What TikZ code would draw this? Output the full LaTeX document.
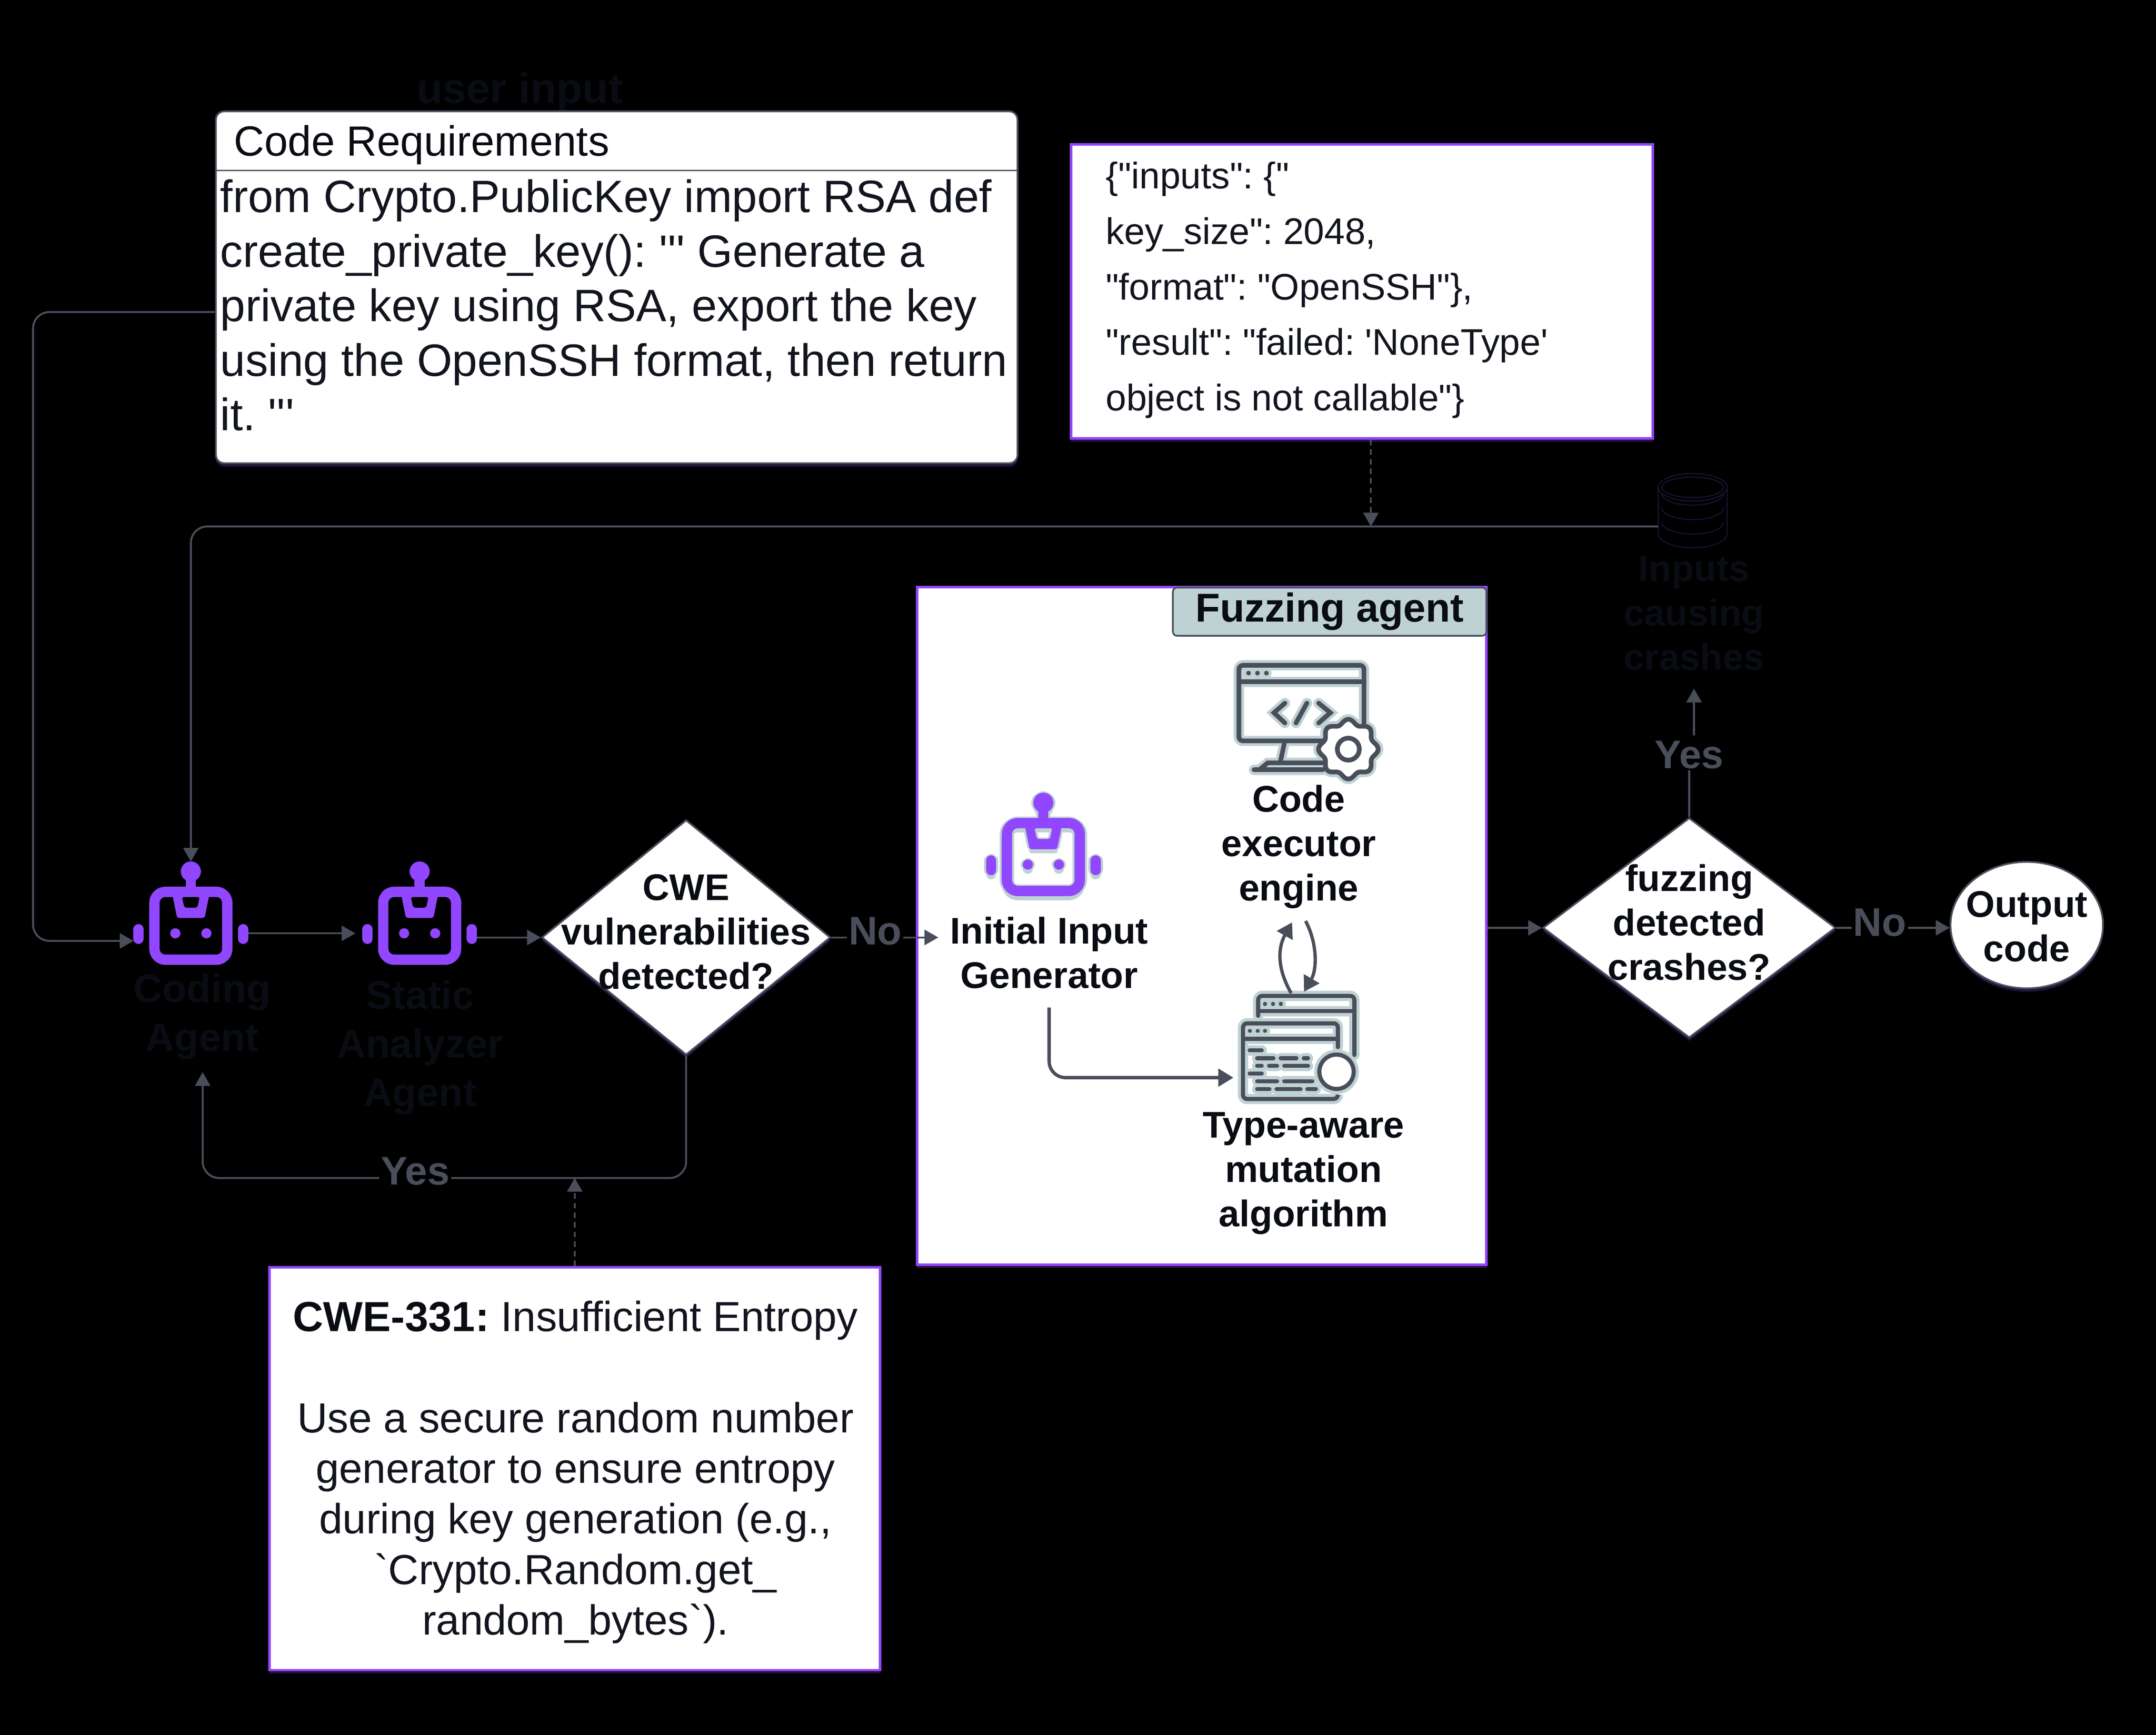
\documentclass[tikz,border=0pt]{standalone}
\usepackage{fontspec}
\setmainfont{Liberation Sans}
\newfontfamily\plainsans{Liberation Sans}
\usetikzlibrary{arrows.meta,shapes.geometric,positioning,shadows}
\definecolor{wire}{HTML}{4A4E5B}
\definecolor{ink}{HTML}{0A0C14}
\definecolor{softink}{HTML}{12141E}
\definecolor{agentpurple}{HTML}{9146FF}
\definecolor{paleteal}{HTML}{BFD2D3}
\definecolor{dbline}{HTML}{1E1438}
\definecolor{glowpurple}{HTML}{24123C}
\tikzset{
  flow/.style={draw=wire,line width=1.4pt,rounded corners=12pt,-{Triangle[length=10pt,width=11pt]}},
  plainflow/.style={draw=wire,line width=1.4pt,rounded corners=12pt},
  dashflow/.style={flow,dash pattern=on 4pt off 3pt},
  inner/.style={draw=wire,line width=2.4pt,-{Triangle[length=11pt,width=12.7pt]}},
  lbl/.style={font=\fontsize{27}{32.3}\selectfont\bfseries,align=center,inner sep=0pt,text=ink},
  dimlbl/.style={font=\fontsize{29}{35.5}\selectfont\bfseries,align=center,inner sep=0pt,text=ink},
  edgelbl/.style={font=\fontsize{29}{32}\selectfont\bfseries,inner sep=1pt,text=wire,fill=black},
  glow/.style={general shadow={fill=glowpurple,shadow xshift=0pt,shadow yshift=-2.5pt}},
  whitebox/.style={draw=agentpurple,line width=1.8pt,fill=white,minimum width=#1,inner sep=0pt,glow},
  decision/.style={diamond,draw=wire,line width=1.3pt,fill=white,inner sep=0pt,aspect=1.25,glow},
  iconhalo/.style={every path/.style={draw=paleteal,line width=7.5pt,line cap=round}},
  iconline/.style={every path/.style={draw=wire,line width=#1,line cap=round}}
}
% one robot, measured from the top of its head
\newcommand{\robot}[3]{
  \begin{scope}[shift={(#1,#2)}]
    \fill[#3] (0,7) circle (7.3);
    \fill[#3] (-3.7,10) rectangle (3.7,20);
    \draw[#3,line width=7.5pt,rounded corners=8pt] (-26.5,21.8) rectangle (26.5,71.2);
    \fill[#3,even odd rule,rounded corners=1.5pt]
      (-13.4,24) -- (13.4,24) -- (10,40.8) -- (-10,40.8) -- cycle
      (-6.5,25.5) -- (6.5,25.5) -- (4.7,33.4) -- (-4.7,33.4) -- cycle;
    \foreach \s in {-1,1} {
      \fill[#3] (\s*11.3,52) circle (3.7);
      \draw[#3,line width=7.5pt,line cap=round] (\s*38,49) -- (\s*38,56);
    }
  \end{scope}
}
% the two pictures inside the fuzzing agent
\newcommand{\monitoricon}{
  \draw[rounded corners=3pt] (901,484) rectangle (992,539);
  \draw (901,496) -- (992,496);
  \foreach \x in {908,914.5,921} {\draw (\x,489.7) -- +(0.01,0);}
  \draw (934.5,511.5) -- (926.5,518.5) -- (934.5,526);
  \draw (942.5,526) -- (950.5,511.5);
  \draw (959,511.5) -- (967.5,518.5) -- (959,526);
  \draw (934,541) -- (931,555);
  \draw (917,559) -- (922,555) -- (962,555);
  \draw (912,560) -- (962,560);
  \draw[fill=white,shift={(980.6,545)},samples=97,domain=0:360,smooth]
    plot (\x:{20+1.7*cos(8*\x)}) -- cycle;
  \draw (980.6,545) circle (8);
}
\newcommand{\mutationicon}{
  \draw[rounded corners=3pt] (915,739) -- (915,724.5) -- (985,724.5) -- (985,767.5);
  \draw (915,735.6) -- (985,735.6);
  \foreach \x in {920,925.8,931.5} {\draw (\x,730.4) -- +(0.01,0);}
  \draw[rounded corners=3pt] (973,761.8) -- (973,744.5) -- (904,744.5) -- (904,799.5) -- (973,799.5) -- (973,797);
  \draw (904,755.7) -- (973,755.7);
  \foreach \x in {909,914.7,920} {\draw (\x,750) -- +(0.01,0);}
  \foreach \a/\b/\y in {907.8/918.6/764.1,913.3/927.1/769.8,930.4/943.8/769.8,947.2/952.3/769.8,
    913.3/918.6/775.4,921.9/929.8/775.4,933/952.3/775.4,907.8/918.6/781,
    913.3/929.8/786.6,933/955.4/786.6,913.3/924.2/792.3,927.4/946.8/792.3,949.8/958/792.3}
    {\draw (\a+1,\y) -- (\b-1,\y);}
  \draw[fill=white] (972,779.7) circle (12.5);
}
\begin{document}
\frenchspacing
\begin{tikzpicture}[x=1pt,y=-1pt]
  \useasboundingbox (0,0) rectangle (1568,1262);
  \fill[black] (-5,-5) rectangle (1573,1267);
  % input boxes at the top
  \node[font=\fontsize{31}{36}\selectfont\bfseries,text=ink,inner sep=0pt] (userinput) at (378,67) {user input};
  \node[draw=wire,line width=1.3pt,fill=white,rounded corners=6pt,minimum width=583pt,minimum height=256pt,glow] (reqbox) at (448.5,209) {};
  \draw[wire,line width=1.2pt] (reqbox.west |- 0,124) -- (reqbox.east |- 0,124);
  \node[font=\plainsans\fontsize{30.7}{36}\selectfont,text=ink,inner sep=0pt,anchor=west] (reqtitle) at (170,105.5) {Code Requirements};
  \node[font=\plainsans\fontsize{33}{39.7}\selectfont,text=softink,inner sep=0pt,anchor=north west,align=left] (reqtext) at (160,130.3)
    {from Crypto.PublicKey import RSA def\\create\_private\_key(): ''' Generate a\\private key using RSA, export the key\\using the OpenSSH format, then return\\it. '''};
  \node[whitebox=423pt,minimum height=214pt] (crashbox) at (990.5,212) {};
  \node[font=\plainsans\fontsize{26.9}{40.4}\selectfont,text=softink,inner sep=0pt,anchor=west,align=left] (crashtext) at (804,211)
    {\{"inputs": \{"\\key\_size": 2048,\\"format": "OpenSSH"\},\\"result": "failed: 'NoneType'\\object is not callable"\}};
  % crash store
  \begin{scope}[dbline,line width=0.7pt]
    \draw (1231,354.5) ellipse (25 and 10);
    \draw (1231,354.5) ellipse (22.5 and 7.5);
    \draw (1206,354.5) -- (1206,388.5) arc[start angle=180,end angle=0,x radius=25,y radius=10] -- (1256,354.5);
    \foreach \y in {359,369.5,380} {
      \draw (1208.5,\y) arc[start angle=180,end angle=0,x radius=22.5,y radius=8.5];
    }
  \end{scope}
  \node[minimum width=50pt,minimum height=54pt,inner sep=0pt] (store) at (1231,371.5) {};
  \node[lbl] (inputs) at (1232,446) {Inputs\\causing\\crashes};
  % the outer robots
  \robot{138.8}{627}{agentpurple}
  \robot{305.2}{627}{agentpurple}
  \node[minimum width=83pt,minimum height=75pt,inner sep=0pt] (coder) at (138.8,664.5) {};
  \node[minimum width=83pt,minimum height=75pt,inner sep=0pt] (analyzer) at (305.2,664.5) {};
  \node[dimlbl] (codertext) at (147,739.5) {Coding\\Agent};
  \node[dimlbl] (analyzertext) at (305.5,762) {Static\\Analyzer\\Agent};
  % decisions
  \node[decision,minimum width=210pt,minimum height=171pt] (cwecheck) at (499,682) {};
  \node[lbl] (cwechecktext) at (499,678) {CWE\\vulnerabilities\\detected?};
  \node[decision,minimum width=213pt,minimum height=160pt] (crashcheck) at (1228.5,675) {};
  \node[lbl] (crashchecktext) at (1228.5,671) {fuzzing\\detected\\crashes?};
  \node[ellipse,draw=wire,line width=1.3pt,fill=white,minimum width=111pt,minimum height=92pt,inner sep=0pt,glow] (output) at (1474,673) {};
  \node[lbl] (outputtext) at (1474,674) {Output\\code};
  % fuzzing agent
  \node[whitebox=414pt,minimum height=493pt] (fuzzbox) at (874,673.5) {};
  \node[draw=wire,line width=1.2pt,fill=paleteal,rounded corners=3pt,minimum width=228pt,minimum height=35pt,inner sep=0pt,font=\fontsize{29.3}{34}\selectfont\bfseries,text=ink] (fuzztag) at (967,445) {Fuzzing agent};
  \foreach \dx/\dy in {-1.5/0,1.5/0,0/-1,0/3} {\robot{758.8+\dx}{577+\dy}{paleteal}}
  \robot{758.8}{577}{agentpurple}
  \begin{scope}[iconhalo] \monitoricon \end{scope}
  \begin{scope}[iconline=3.4pt] \monitoricon \end{scope}
  \begin{scope}[iconhalo] \mutationicon \end{scope}
  \begin{scope}[iconline=3pt] \mutationicon \end{scope}
  \node[lbl] (initgen) at (763,693) {Initial Input\\Generator};
  \node[lbl] (executor) at (944.5,616) {Code\\executor\\engine};
  \node[lbl] (mutation) at (948,853.5) {Type-aware\\mutation\\algorithm};
  \coordinate (mutin) at (897,784);
  \coordinate (genout) at (763,733);
  \coordinate (loopleftend) at (939,722.5);
  \coordinate (loopleft) at (939.7,671);
  \coordinate (looprightend) at (949.5,670);
  \coordinate (loopright) at (948.4,721.5);
  \draw[inner,rounded corners=12pt] (genout) |- (mutin);
  \draw[inner] (loopleftend) .. controls (929,705) and (929,690) .. (loopleft);
  \draw[inner] (looprightend) .. controls (958,686) and (958,705) .. (loopright);
  % connectors
  \node[edgelbl] (firstno) at (636.5,677.5) {No};
  \node[edgelbl] (firstyes) at (302,852) {Yes};
  \node[edgelbl] (secondyes) at (1228.5,549) {Yes};
  \node[edgelbl] (secondno) at (1367,671) {No};
  \coordinate (storeout) at (1206,383);
  \coordinate (crashdrop) at (997,383);
  \coordinate (yesdrop) at (418,857);
  \coordinate (coderback) at (147.4,780);
  \coordinate (yestail) at (1232,535);
  \coordinate (inputsin) at (1232,501);
  \coordinate (initin) at (682.4,682);
  \draw[flow] (store.west |- storeout) -| (coder.north);
  \draw[flow] (reqbox.west |- 0,227) -| (24,684.5) -- ([yshift=-20pt]coder.west);
  \draw[dashflow] (crashbox.south -| crashdrop) -- (crashdrop);
  \draw[flow] ([yshift=-14.5pt]coder.east) -- ([yshift=-14.5pt,xshift=-5pt]analyzer.west);
  \draw[flow] (analyzer.east |- cwecheck.west) -- (cwecheck.west);
  \draw[plainflow] (cwecheck.east) -- (firstno.west |- cwecheck.east);
  \draw[flow] (firstno.east |- cwecheck.east) -- (initin);
  \draw[plainflow] (cwecheck.south) |- (firstyes.east |- yesdrop);
  \draw[flow] (firstyes.west |- yesdrop) -| (coderback);
  \node[whitebox=444pt,minimum height=293pt] (cwebox) at (418,1068.5) {};
  \node[font=\plainsans\fontsize{30.6}{36.8}\selectfont,text=softink,inner sep=0pt,align=center] (cwetext) at (418.5,1071)
    {{\bfseries\color{ink}CWE-331:} Insufficient Entropy\\[36.8pt]Use a secure random number\\generator to ensure entropy\\during key generation (e.g.,\\`Crypto.Random.get\_\\random\_bytes`).};
  \draw[dashflow] (cwebox.north) -- (yesdrop);
  \draw[flow] (fuzzbox.east |- crashcheck.west) -- (crashcheck.west);
  \draw[plainflow] (crashcheck.north) -- (secondyes.south);
  \draw[flow] (yestail) -- (inputsin);
  \draw[plainflow] (crashcheck.east) -- (secondno.west |- crashcheck.east);
  \draw[flow] (secondno.east |- crashcheck.east) -- (output.west |- crashcheck.east);
\end{tikzpicture}
\end{document}
